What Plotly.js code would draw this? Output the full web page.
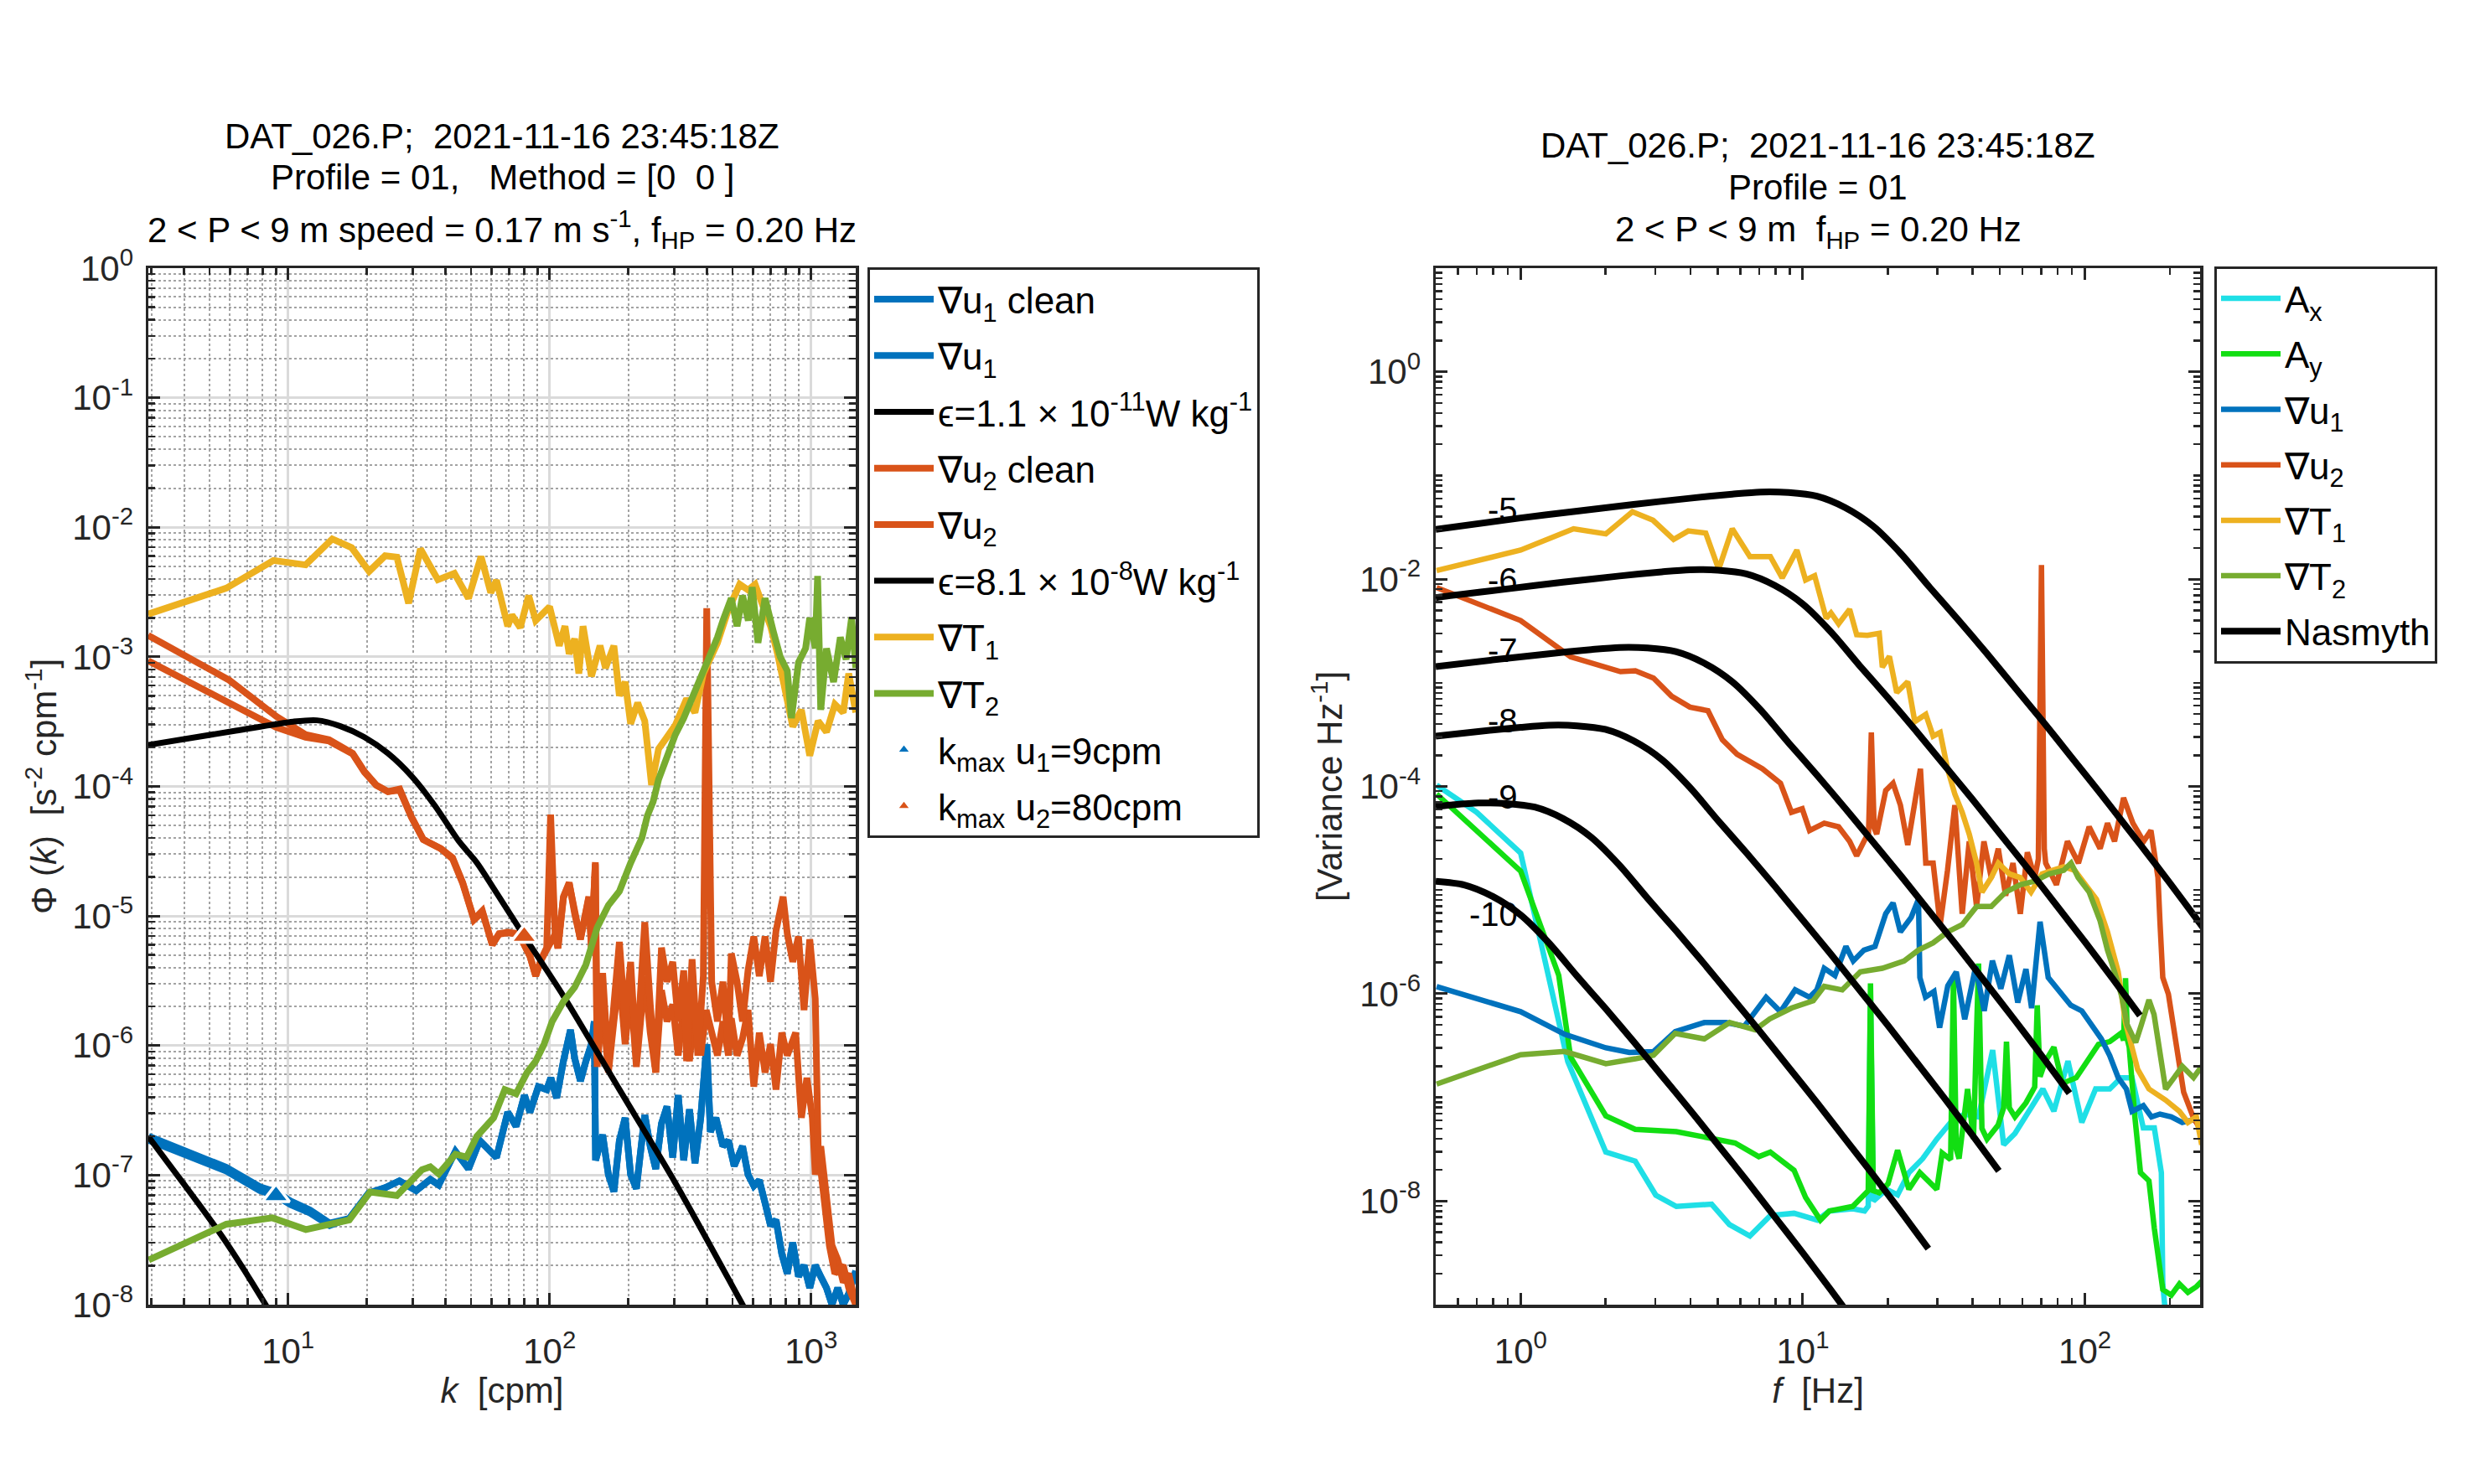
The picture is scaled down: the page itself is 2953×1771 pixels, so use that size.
<!DOCTYPE html>
<html><head><meta charset="utf-8">
<script src="https://cdn.plot.ly/plotly-3.0.1.min.js"></script>
<style>html,body{margin:0;padding:0;background:#fff}#chart{width:2953px;height:1771px}</style>
</head><body><div id="chart"></div>
<script>
// ===== LEFT PANEL: wavenumber spectra (log10 k [cpm], log10 Phi) =====
const u1CleanLogK = [0.467,0.604,0.764,0.892,0.954,1.01,1.084,1.159,1.234,1.308,1.372,1.426,1.49,1.544,1.576,1.64,1.69,1.733,1.797,1.84,1.872,1.904,1.925,1.957,1.989,2.005,2.027,2.053,2.08,2.096,2.118,2.139,2.16,2.171,2.176,2.203,2.225,2.246,2.267,2.289,2.31,2.332,2.364,2.385,2.406,2.428,2.449,2.471,2.492,2.513,2.535,2.556,2.578,2.601,2.615,2.636,2.663,2.684,2.706,2.738,2.759,2.781,2.802,2.824,2.845,2.866,2.888,2.909,2.93,2.952,2.973,2.995,3.016,3.037,3.059,3.08,3.102,3.123,3.144,3.171];
const u1CleanLogPhi = [-6.731,-6.839,-6.968,-7.12,-7.16,-7.228,-7.292,-7.389,-7.335,-7.14,-7.097,-7.044,-7.12,-7.033,-7.076,-6.817,-6.952,-6.733,-6.864,-6.514,-6.624,-6.383,-6.514,-6.317,-6.34,-6.25,-6.405,-6.12,-5.88,-6.098,-6.274,-6.12,-5.989,-5.814,-6.886,-6.689,-6.996,-7.127,-6.733,-6.558,-6.996,-7.105,-6.536,-6.777,-6.952,-6.602,-6.47,-6.864,-6.383,-6.886,-6.492,-6.908,-6.558,-5.989,-6.667,-6.558,-6.777,-6.733,-6.93,-6.777,-6.996,-7.083,-7.039,-7.214,-7.39,-7.346,-7.608,-7.761,-7.521,-7.783,-7.696,-7.871,-7.696,-7.783,-7.871,-8.0,-7.871,-8.0,-7.915,-7.74];
const u1RawLowLogK = [0.467,0.604,0.764,0.892,0.954,1.01,1.084,1.159];
const u1RawLowLogPhi = [-6.70,-6.81,-6.94,-7.09,-7.13,-7.20,-7.27,-7.37];

const u2RawLogK = [0.465,0.775,0.955,1.067,1.157,1.247,1.292,1.337,1.382,1.427,1.472,1.517,1.584,1.629,1.668,1.711,1.743,1.781,1.807,1.84,1.882,1.925,1.947,1.968,1.989,2.004,2.021,2.032,2.053,2.075,2.096,2.118,2.15,2.16,2.175,2.182,2.203,2.225,2.246,2.267,2.289,2.31,2.332,2.364,2.385,2.406,2.428,2.449,2.471,2.492,2.513,2.524,2.545,2.567,2.588,2.601,2.62,2.642,2.663,2.684,2.695,2.717,2.738,2.759,2.781,2.802,2.824,2.845,2.866,2.893,2.909,2.93,2.952,2.973,2.995,3.016,3.027,3.048,3.07,3.091,3.123,3.144,3.171];
const u2RawLogPhi = [-2.834,-3.18,-3.46,-3.60,-3.64,-3.744,-3.884,-3.99,-4.04,-4.02,-4.235,-4.41,-4.48,-4.55,-4.742,-5.026,-4.96,-5.223,-5.136,-5.125,-5.136,-5.31,-5.464,-5.333,-5.245,-4.217,-5.136,-5.245,-4.85,-4.742,-4.982,-5.18,-4.85,-5.245,-4.585,-6.12,-5.44,-6.164,-5.683,-5.2,-5.814,-5.354,-6.12,-5.048,-5.683,-6.208,-5.245,-5.508,-5.354,-5.814,-5.42,-6.12,-5.333,-6.077,-5.464,-2.624,-5.508,-5.814,-5.508,-6.03,-5.289,-5.508,-5.814,-5.42,-5.158,-5.464,-5.158,-5.508,-5.114,-4.851,-5.136,-5.354,-5.158,-5.726,-5.18,-5.64,-6.777,-7.214,-7.543,-7.76,-7.696,-7.87,-8.0];
const u2CleanLogK = [0.465,0.775,0.955,1.067,1.157,1.247,1.292,1.337,1.382,1.427,1.472,1.517,1.584,1.629,1.668,1.711,1.743,1.781,1.807,1.84,1.882,1.925,1.947,1.968,1.989,2.021,2.032,2.053,2.075,2.096,2.118,2.15,2.16,2.175,2.182,2.203,2.225,2.246,2.267,2.289,2.31,2.332,2.364,2.385,2.406,2.428,2.449,2.471,2.492,2.513,2.535,2.556,2.578,2.599,2.62,2.642,2.663,2.684,2.695,2.717,2.738,2.759,2.781,2.802,2.824,2.845,2.866,2.888,2.909,2.941,2.963,2.984,3.005,3.016,3.037,3.059,3.08,3.102,3.123,3.144,3.171];
const u2CleanLogPhi = [-3.03,-3.363,-3.545,-3.62,-3.65,-3.75,-3.89,-3.99,-4.04,-4.03,-4.24,-4.41,-4.48,-4.56,-4.75,-5.03,-4.97,-5.22,-5.14,-5.13,-5.14,-5.31,-5.46,-5.34,-5.25,-5.14,-5.25,-4.86,-4.75,-4.99,-5.18,-4.86,-5.25,-4.6,-6.164,-5.683,-6.208,-5.814,-5.464,-5.989,-5.573,-6.164,-5.464,-5.9,-6.208,-5.573,-5.814,-5.683,-6.077,-5.683,-6.12,-5.683,-6.077,-5.726,-5.9,-6.077,-5.814,-6.077,-5.79,-6.077,-5.945,-5.726,-6.317,-5.9,-6.208,-5.989,-6.34,-5.9,-6.077,-5.9,-6.558,-6.25,-6.558,-6.996,-6.777,-7.214,-7.543,-7.652,-7.827,-7.76,-8.0];

const t1LogK = [0.465,0.764,0.944,1.067,1.169,1.243,1.31,1.371,1.416,1.461,1.506,1.573,1.636,1.69,1.738,1.775,1.797,1.84,1.856,1.888,1.92,1.947,2.0,2.037,2.059,2.075,2.096,2.112,2.128,2.16,2.193,2.214,2.246,2.267,2.289,2.31,2.337,2.364,2.39,2.417,2.444,2.481,2.524,2.556,2.588,2.642,2.684,2.727,2.759,2.786,2.813,2.845,2.872,2.904,2.93,2.963,2.995,3.027,3.059,3.091,3.123,3.144,3.171];
const t1LogPhi = [-2.67,-2.47,-2.256,-2.29,-2.09,-2.157,-2.34,-2.22,-2.23,-2.587,-2.167,-2.405,-2.355,-2.548,-2.226,-2.505,-2.409,-2.763,-2.677,-2.774,-2.527,-2.72,-2.613,-2.914,-2.763,-2.978,-2.86,-3.129,-2.763,-3.15,-2.914,-3.086,-2.914,-3.30,-3.194,-3.516,-3.355,-3.495,-3.989,-3.71,-3.634,-3.527,-3.323,-3.43,-3.129,-2.892,-2.634,-2.44,-2.484,-2.44,-2.591,-2.763,-2.978,-3.258,-3.538,-3.409,-3.763,-3.495,-3.58,-3.366,-3.43,-3.129,-3.43];
const t2LogK = [0.467,0.604,0.764,0.94,1.068,1.234,1.314,1.416,1.512,1.544,1.576,1.64,1.683,1.722,1.758,1.786,1.829,1.872,1.914,1.947,1.979,2.01,2.053,2.096,2.139,2.182,2.225,2.267,2.31,2.353,2.374,2.396,2.417,2.449,2.481,2.513,2.545,2.578,2.61,2.642,2.663,2.695,2.717,2.738,2.76,2.775,2.797,2.824,2.856,2.882,2.909,2.925,2.952,2.979,2.995,3.016,3.025,3.037,3.059,3.086,3.112,3.134,3.155,3.171];
const t2LogPhi = [-7.655,-7.53,-7.379,-7.33,-7.42,-7.346,-7.13,-7.158,-6.958,-6.936,-6.99,-6.839,-6.861,-6.70,-6.62,-6.558,-6.34,-6.372,-6.208,-6.12,-5.99,-5.814,-5.66,-5.55,-5.376,-5.09,-4.917,-4.81,-4.59,-4.398,-4.226,-4.118,-3.946,-3.753,-3.60,-3.473,-3.323,-3.172,-3.0,-2.849,-2.72,-2.548,-2.763,-2.527,-2.72,-2.462,-2.892,-2.548,-2.806,-3.0,-3.108,-3.473,-3.043,-2.935,-2.699,-2.935,-2.376,-3.409,-2.935,-3.194,-2.849,-3.02,-2.699,-3.086];

const nasLowLogK = [0.465,0.55,0.65,0.75,0.85,0.95];
const nasLowLogPhi = [-6.70,-6.93,-7.20,-7.48,-7.79,-8.12];
const nasHighLogK = [0.465,0.8,1.02,1.11,1.2,1.292,1.382,1.472,1.562,1.652,1.722,1.786,1.904,2.053,2.267,2.481,2.738,2.77];
const nasHighLogPhi = [-3.68,-3.57,-3.50,-3.49,-3.535,-3.62,-3.745,-3.92,-4.15,-4.42,-4.589,-4.786,-5.158,-5.617,-6.339,-7.06,-8.0,-8.12];

const kmaxLogK = [0.954, 1.903];
const kmaxLogPhi = [-7.16, -5.158];

// ===== RIGHT PANEL: frequency spectra (log10 f [Hz], log10 variance) =====
const axLogF = [-0.298,-0.156,0.0,0.167,0.302,0.406,0.479,0.552,0.677,0.74,0.8125,0.885,0.969,1.052,1.094,1.177,1.219,1.232,1.24,1.25,1.2967,1.336,1.376,1.425,1.475,1.524,1.574,1.623,1.673,1.712,1.752,1.791,1.851,1.89,1.94,1.989,2.038,2.088,2.128,2.167,2.207,2.246,2.271,2.276,2.286];
const axLogV = [-3.987,-4.249,-4.643,-6.654,-7.528,-7.615,-7.943,-8.052,-8.03,-8.227,-8.337,-8.14,-8.118,-8.184,-8.096,-8.074,-8.096,-8.05,-6.0,-8.0,-7.887,-7.941,-7.726,-7.591,-7.403,-7.241,-7.161,-7.188,-6.543,-7.457,-7.349,-7.188,-6.919,-7.134,-6.65,-7.242,-6.919,-6.919,-6.811,-6.811,-7.295,-7.295,-7.726,-8.8,-9.1];
const ayLogF = [-0.298,0.0,0.135,0.177,0.302,0.406,0.552,0.677,0.76,0.844,0.885,0.969,1.01,1.0625,1.094,1.177,1.219,1.232,1.24,1.25,1.271,1.302,1.336,1.376,1.415,1.475,1.494,1.524,1.534,1.544,1.554,1.584,1.605,1.623,1.635,1.653,1.692,1.712,1.722,1.732,1.752,1.791,1.822,1.831,1.841,1.86,1.89,1.92,1.969,2.009,2.048,2.088,2.128,2.137,2.144,2.151,2.157,2.177,2.197,2.227,2.246,2.276,2.306,2.335,2.365,2.395,2.414];
const ayLogV = [-4.074,-4.817,-5.823,-6.61,-7.178,-7.309,-7.331,-7.397,-7.44,-7.572,-7.528,-7.703,-7.965,-8.184,-8.096,-8.052,-7.921,-7.9,-5.9,-7.9,-7.921,-7.834,-7.51,-7.887,-7.726,-7.887,-7.537,-7.6,-5.844,-7.5,-7.591,-6.919,-7.4,-5.709,-7.3,-7.403,-7.269,-7.1,-6.462,-7.1,-7.188,-7.053,-6.9,-6.112,-6.8,-6.65,-6.516,-6.865,-6.811,-6.65,-6.489,-6.462,-6.381,-6.45,-5.85,-6.45,-6.516,-7.188,-7.726,-7.806,-8.263,-8.854,-8.908,-8.8,-8.881,-8.827,-8.774];
const fu1LogF = [-0.298,0.0,0.156,0.302,0.385,0.471,0.548,0.651,0.728,0.793,0.87,0.921,0.973,1.024,1.05,1.076,1.114,1.153,1.179,1.217,1.256,1.294,1.32,1.346,1.384,1.41,1.415,1.435,1.465,1.485,1.514,1.544,1.574,1.613,1.643,1.672,1.702,1.732,1.762,1.791,1.811,1.841,1.87,1.91,1.95,1.989,2.029,2.058,2.088,2.118,2.147,2.167,2.207,2.236,2.266,2.306,2.345,2.385,2.414];
const fu1LogV = [-5.932,-6.173,-6.391,-6.522,-6.566,-6.558,-6.366,-6.278,-6.278,-6.313,-6.034,-6.173,-5.963,-6.034,-5.963,-5.754,-5.824,-5.544,-5.684,-5.579,-5.544,-5.229,-5.124,-5.404,-5.264,-5.089,-5.844,-6.032,-5.978,-6.328,-5.924,-5.79,-6.247,-5.736,-6.166,-5.682,-5.951,-5.629,-6.086,-5.763,-6.139,-5.306,-5.844,-5.978,-6.112,-6.166,-6.328,-6.435,-6.597,-6.811,-6.919,-7.134,-7.08,-7.188,-7.161,-7.188,-7.242,-7.215,-7.269];
const fu2LogF = [-0.298,0.0,0.177,0.354,0.4065,0.471,0.535,0.6,0.664,0.715,0.767,0.857,0.921,0.96,0.998,1.024,1.076,1.127,1.166,1.191,1.217,1.233,1.243,1.253,1.262,1.294,1.32,1.346,1.372,1.397,1.417,1.436,1.462,1.487,1.513,1.539,1.565,1.59,1.616,1.642,1.668,1.693,1.719,1.745,1.771,1.796,1.822,1.835,1.846,1.856,1.861,1.899,1.938,1.977,2.015,2.054,2.08,2.105,2.137,2.17,2.208,2.234,2.259,2.266,2.276,2.296,2.325,2.35,2.385,2.414];
const fu2LogV = [-2.082,-2.4,-2.749,-2.893,-2.885,-2.955,-3.13,-3.235,-3.27,-3.55,-3.69,-3.83,-3.97,-4.25,-4.215,-4.425,-4.355,-4.39,-4.53,-4.67,-4.53,-4.45,-3.48,-4.4,-4.46,-4.04,-3.97,-4.18,-4.565,-4.18,-3.83,-4.74,-4.74,-5.334,-4.81,-4.18,-5.229,-4.53,-5.159,-4.53,-4.88,-4.6,-5.054,-4.74,-5.229,-4.635,-4.88,-4.7,-1.864,-4.6,-4.74,-4.949,-4.53,-4.74,-4.39,-4.6,-4.355,-4.53,-4.11,-4.355,-4.53,-4.425,-4.88,-5.306,-5.844,-6.005,-6.516,-6.95,-7.2,-7.327];
const ft1LogF = [-0.298,0.0,0.1875,0.302,0.396,0.469,0.542,0.594,0.656,0.702,0.75,0.8125,0.885,0.927,0.979,1.01,1.042,1.083,1.1,1.127,1.166,1.191,1.229,1.271,1.282,1.307,1.333,1.372,1.397,1.436,1.462,1.487,1.513,1.539,1.565,1.59,1.616,1.635,1.668,1.693,1.732,1.771,1.809,1.848,1.886,1.925,1.964,2.002,2.041,2.08,2.118,2.144,2.167,2.187,2.227,2.286,2.335,2.365,2.395,2.414];
const ft1LogV = [-1.918,-1.72,-1.514,-1.564,-1.35,-1.432,-1.617,-1.535,-1.556,-1.905,-1.514,-1.782,-1.782,-1.988,-1.72,-2.008,-1.967,-2.379,-2.326,-2.431,-2.291,-2.536,-2.543,-2.523,-2.85,-2.746,-3.095,-2.99,-3.375,-3.305,-3.515,-3.48,-3.83,-4.075,-4.25,-4.46,-4.74,-5.02,-4.88,-4.74,-4.844,-4.88,-5.02,-4.844,-4.81,-4.775,-4.81,-4.95,-5.09,-5.404,-5.788,-6.278,-6.543,-6.73,-6.919,-7.026,-7.134,-7.242,-7.188,-7.456];
const ft2LogF = [-0.298,0.0,0.156,0.302,0.4065,0.471,0.548,0.651,0.741,0.831,0.883,0.96,1.037,1.076,1.14,1.204,1.282,1.359,1.41,1.462,1.513,1.565,1.616,1.668,1.719,1.771,1.822,1.873,1.925,1.951,1.976,2.015,2.054,2.08,2.105,2.131,2.15,2.18,2.2,2.227,2.245,2.26,2.286,2.316,2.345,2.385,2.414];
const ft2LogV = [-6.872,-6.588,-6.557,-6.675,-6.628,-6.593,-6.383,-6.436,-6.278,-6.348,-6.243,-6.138,-6.068,-5.929,-5.963,-5.789,-5.754,-5.684,-5.579,-5.509,-5.404,-5.334,-5.159,-5.159,-5.019,-4.949,-4.914,-4.844,-4.809,-4.739,-4.879,-5.019,-5.299,-5.579,-5.789,-6.03,-6.3,-6.47,-6.3,-6.06,-6.2,-6.44,-6.92,-6.81,-6.70,-6.81,-6.70];

// Nasmyth reference curves, epsilon = 1e-5 ... 1e-10
const nas5LogF = [-0.301,0.0,0.2,0.4,0.6,0.75,0.85,0.95,1.05,1.15,1.25,1.35,1.45,1.55,1.65,1.75,1.85,1.95,2.05,2.15,2.25,2.35,2.445];
const nas5LogV = [-1.52,-1.41,-1.345,-1.28,-1.22,-1.18,-1.16,-1.165,-1.20,-1.31,-1.49,-1.76,-2.08,-2.39,-2.71,-3.04,-3.37,-3.71,-4.05,-4.40,-4.75,-5.11,-5.46];
const nas6LogF = [-0.301,-0.25,-0.05,0.15,0.35,0.5,0.6,0.7,0.8,0.9,1.0,1.1,1.2,1.3,1.4,1.5,1.6,1.7,1.8,1.9,2.0,2.1,2.195];
const nas6LogV = [-2.179,-2.16,-2.095,-2.03,-1.97,-1.93,-1.91,-1.915,-1.95,-2.06,-2.24,-2.51,-2.83,-3.14,-3.46,-3.79,-4.12,-4.46,-4.80,-5.15,-5.50,-5.86,-6.21];
const nas7LogF = [-0.301,-0.1,0.1,0.25,0.35,0.45,0.55,0.65,0.75,0.85,0.95,1.05,1.15,1.25,1.35,1.45,1.55,1.65,1.75,1.85,1.945];
const nas7LogV = [-2.845,-2.78,-2.72,-2.68,-2.66,-2.665,-2.70,-2.81,-2.99,-3.26,-3.58,-3.89,-4.21,-4.54,-4.87,-5.21,-5.55,-5.90,-6.25,-6.61,-6.96];
const nas8LogF = [-0.301,-0.15,0.0,0.1,0.2,0.3,0.4,0.5,0.6,0.7,0.8,0.9,1.0,1.1,1.2,1.3,1.4,1.5,1.6,1.695];
const nas8LogV = [-3.515,-3.47,-3.43,-3.41,-3.415,-3.45,-3.56,-3.74,-4.01,-4.33,-4.64,-4.96,-5.29,-5.62,-5.96,-6.30,-6.65,-7.00,-7.36,-7.71];
const nas9LogF = [-0.301,-0.25,-0.15,-0.05,0.05,0.15,0.25,0.35,0.45,0.55,0.65,0.75,0.85,0.95,1.05,1.15,1.25,1.35,1.445];
const nas9LogV = [-4.194,-4.18,-4.16,-4.165,-4.20,-4.31,-4.49,-4.76,-5.08,-5.39,-5.71,-6.04,-6.37,-6.71,-7.05,-7.40,-7.75,-8.11,-8.46];
const nas10LogF = [-0.301,-0.2,-0.1,0.0,0.1,0.2,0.3,0.4,0.5,0.6,0.7,0.8,0.9,1.0,1.1,1.195];
const nas10LogV = [-4.915,-4.95,-5.06,-5.24,-5.51,-5.83,-6.14,-6.46,-6.79,-7.12,-7.46,-7.80,-8.15,-8.50,-8.86,-9.21];
const nasLabels = ['-5','-6','-7','-8','-9','-10'];
const nasLabelLogV = [-1.331,-2.008,-2.689,-3.368,-4.099,-5.235];

// tick labels
const leftXTicks = [10,100,1000];
const leftXText = ['10<sup>1</sup>','10<sup>2</sup>','10<sup>3</sup>'];
const leftYTicks = [1e-8,1e-7,1e-6,1e-5,1e-4,1e-3,1e-2,1e-1,1];
const leftYText = ['10<sup>-8</sup>','10<sup>-7</sup>','10<sup>-6</sup>','10<sup>-5</sup>','10<sup>-4</sup>','10<sup>-3</sup>','10<sup>-2</sup>','10<sup>-1</sup>','10<sup>0</sup>'];
const rightXTicks = [1,10,100];
const rightXText = ['10<sup>0</sup>','10<sup>1</sup>','10<sup>2</sup>'];
const rightYTicks = [1e-8,1e-6,1e-4,1e-2,1];
const rightYText = ['10<sup>-8</sup>','10<sup>-6</sup>','10<sup>-4</sup>','10<sup>-2</sup>','10<sup>0</sup>'];

// ===== build =====
const FONT = 'Liberation Sans, Arial, Helvetica, sans-serif';
const FS = 42, LFS = 44;
const COL = {blue:'#0072BD', orange:'#D95319', yellow:'#EDB120', green:'#77AC30', cyan:'#1FDFE6', lime:'#12DE12', black:'#000000'};
const p10 = a => a.map(v => Math.pow(10, v));

function tr(name, lx, ly, color, width, xa, ya, legend, group, extra) {
  return Object.assign({
    type:'scatter', mode:'lines', name, x:p10(lx), y:p10(ly), xaxis:xa, yaxis:ya,
    legend, legendgroup:group, line:{color, width}, hoverinfo:'skip'
  }, extra || {});
}

const traces = [];
const LW = 8, BW = 7;
traces.push(tr('∇u<sub>1</sub> clean', u1CleanLogK, u1CleanLogPhi, COL.blue, LW, 'x', 'y', 'legend', 'a1'));
traces.push(tr('∇u<sub>1</sub>', u1RawLowLogK.concat(u1CleanLogK.slice(8)), u1RawLowLogPhi.concat(u1CleanLogPhi.slice(8)), COL.blue, LW, 'x', 'y', 'legend', 'a2'));
traces.push(tr('ϵ=1.1 × 10<sup>-11</sup>W kg<sup>-1</sup>', nasLowLogK, nasLowLogPhi, COL.black, BW, 'x', 'y', 'legend', 'a3', {line:{color:COL.black,width:BW,shape:'spline',smoothing:0.8}}));
traces.push(tr('∇u<sub>2</sub> clean', u2CleanLogK, u2CleanLogPhi, COL.orange, LW, 'x', 'y', 'legend', 'a4'));
traces.push(tr('∇u<sub>2</sub>', u2RawLogK, u2RawLogPhi, COL.orange, LW, 'x', 'y', 'legend', 'a5'));
traces.push(tr('ϵ=8.1 × 10<sup>-8</sup>W kg<sup>-1</sup>', nasHighLogK, nasHighLogPhi, COL.black, BW, 'x', 'y', 'legend', 'a6', {line:{color:COL.black,width:BW,shape:'spline',smoothing:0.8}}));
traces.push(tr('∇T<sub>1</sub>', t1LogK, t1LogPhi, COL.yellow, LW, 'x', 'y', 'legend', 'a7'));
traces.push(tr('∇T<sub>2</sub>', t2LogK, t2LogPhi, COL.green, LW, 'x', 'y', 'legend', 'a8'));
traces.push({type:'scatter', mode:'markers', name:'k<sub>max</sub> u<sub>1</sub>=9cpm', x:p10([kmaxLogK[0]]), y:p10([kmaxLogPhi[0]]), xaxis:'x', yaxis:'y', legend:'legend', legendgroup:'a9', hoverinfo:'skip',
  marker:{symbol:'triangle-up', size:28, color:COL.blue, line:{color:'#ffffff', width:3.5}}});
traces.push({type:'scatter', mode:'markers', name:'k<sub>max</sub> u<sub>2</sub>=80cpm', x:p10([kmaxLogK[1]]), y:p10([kmaxLogPhi[1]]), xaxis:'x', yaxis:'y', legend:'legend', legendgroup:'a10', hoverinfo:'skip',
  marker:{symbol:'triangle-up', size:28, color:COL.orange, line:{color:'#ffffff', width:3.5}}});

const RW = 6.5, NW = 8;
traces.push(tr('A<sub>x</sub>', axLogF, axLogV, COL.cyan, RW, 'x2', 'y2', 'legend2', 'b1'));
traces.push(tr('A<sub>y</sub>', ayLogF, ayLogV, COL.lime, RW, 'x2', 'y2', 'legend2', 'b2'));
traces.push(tr('∇u<sub>1</sub>', fu1LogF, fu1LogV, COL.blue, RW, 'x2', 'y2', 'legend2', 'b3'));
traces.push(tr('∇u<sub>2</sub>', fu2LogF, fu2LogV, COL.orange, RW, 'x2', 'y2', 'legend2', 'b4'));
traces.push(tr('∇T<sub>1</sub>', ft1LogF, ft1LogV, COL.yellow, RW, 'x2', 'y2', 'legend2', 'b5'));
traces.push(tr('∇T<sub>2</sub>', ft2LogF, ft2LogV, COL.green, RW, 'x2', 'y2', 'legend2', 'b6'));
const nasF = [nas5LogF, nas6LogF, nas7LogF, nas8LogF, nas9LogF, nas10LogF];
const nasV = [nas5LogV, nas6LogV, nas7LogV, nas8LogV, nas9LogV, nas10LogV];
nasF.forEach((lf, i) => {
  traces.push(tr('Nasmyth', lf, nasV[i], COL.black, NW, 'x2', 'y2', 'legend2', 'b7',
    {showlegend: i === 0, line:{color:COL.black, width:NW, shape:'spline', smoothing:0.8}}));
});

function minorList(d0, d1, skipOne) {
  const out = [];
  for (let d = d0; d <= d1; d++) for (let m = 1; m <= 9; m++) {
    if (m === 1 && skipOne(d)) continue;
    out.push(m * Math.pow(10, d));
  }
  return out;
}

function axis(domain, range, tv, tt, minorVals, grid, anchor, title, standoff, labelOff) {
  return {
    type:'log', domain, range, anchor, tickmode:'array', tickvals:tv, ticktext:tt,
    ticks:'inside', ticklen:14, tickwidth:3, tickcolor:'#262626', ticklabelstandoff:labelOff,
    showline:true, linecolor:'#262626', linewidth:3.5, mirror:'allticks',
    showgrid:grid, gridcolor:'#dadada', gridwidth:3, zeroline:false,
    tickfont:{family:FONT, size:FS, color:'#262626'},
    title:{text:title, font:{family:FONT, size:FS, color:'#262626'}, standoff},
    minor:{tickmode:'array', tickvals:minorVals, ticks:'inside', ticklen:8, tickwidth:2.5, tickcolor:'#262626',
      showgrid:grid, gridcolor:'#a3a3a3', gridwidth:2, griddash:'dot'}
  };
}

const NB = '\u00A0';
const annotations = [];
function titleLine(text, xc, ypx) {
  annotations.push({text, xref:'paper', yref:'paper', x:xc, y:1 - ypx/1771, xanchor:'center', yanchor:'middle',
    showarrow:false, font:{family:FONT, size:FS, color:'#000'}});
}
titleLine('DAT_026.P;' + NB + NB + '2021-11-16 23:45:18Z', 599/2953, 162);
titleLine('Profile = 01,' + NB + NB + NB + 'Method = [0' + NB + NB + '0 ]', 599/2953, 212);
titleLine('2 &lt; P &lt; 9 m speed = 0.17 m s<sup>-1</sup>, f<sub>HP</sub> = 0.20 Hz', 599/2953, 274);
titleLine('DAT_026.P;' + NB + NB + '2021-11-16 23:45:18Z', 2169/2953, 173);
titleLine('Profile = 01', 2169/2953, 224);
titleLine('2 &lt; P &lt; 9 m' + NB + NB + 'f<sub>HP</sub> = 0.20 Hz', 2169/2953, 276);
nasLabels.forEach((t, i) => {
  annotations.push({text:t, xref:'x2', yref:'y2', x:-0.005, y:nasLabelLogV[i], xanchor:'right', yanchor:'middle',
    showarrow:false, font:{family:FONT, size:40, color:'#000'}});
});

const yDom = [1 - 1557/1771, 1 - 320/1771];
const layout = {
  width:2953, height:1771, margin:{l:0, r:0, t:0, b:0}, paper_bgcolor:'#fff', plot_bgcolor:'#fff',
  font:{family:FONT, size:FS, color:'#262626'}, showlegend:true,
  xaxis: axis([177/2953, 1021/2953], [0.4657, 3.1708], leftXTicks, leftXText, minorList(0, 3, () => true), true, 'y', '<i>k</i>' + NB + NB + '[cpm]', 8, 16),
  yaxis: axis(yDom, [-8, 0], leftYTicks, leftYText, minorList(-8, -1, () => true), true, 'x', 'Φ' + NB + '(<i>k</i>)' + NB + NB + '[s<sup>-2</sup> cpm<sup>-1</sup>]', 6, 6),
  xaxis2: axis([1713/2953, 2625/2953], [-0.30103, 2.40824], rightXTicks, rightXText, minorList(-1, 2, () => true), false, 'y2', '<i>f</i>' + NB + NB + '[Hz]', 8, 16),
  yaxis2: axis(yDom, [-9, 1], rightYTicks, rightYText, minorList(-9, 0, d => d % 2 === 0), false, 'x2', '[Variance Hz<sup>-1</sup>]', 8, 6),
  legend: {x:1035/2953, y:1 - 319/1771, xanchor:'left', yanchor:'top', bgcolor:'#fff', bordercolor:'#262626', borderwidth:3,
    font:{family:FONT, size:LFS, color:'#000'}, traceorder:'grouped', tracegroupgap:7, itemwidth:71},
  legend2: {x:2642/2953, y:1 - 318/1771, xanchor:'left', yanchor:'top', bgcolor:'#fff', bordercolor:'#262626', borderwidth:3,
    font:{family:FONT, size:LFS, color:'#000'}, traceorder:'grouped', tracegroupgap:6, itemwidth:71},
  annotations
};

Plotly.newPlot('chart', traces, layout, {staticPlot:true, displayModeBar:false});
</script></body></html>
